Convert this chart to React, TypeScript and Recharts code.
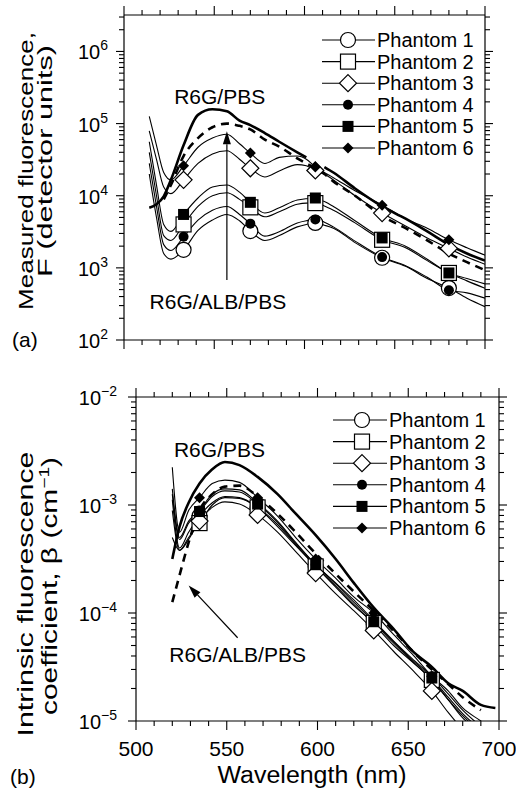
import React from "react";
import { LineChart, Line, XAxis, YAxis, ReferenceLine, ReferenceDot, Legend } from "recharts";

const FONT = "'Liberation Sans', Arial, Helvetica, sans-serif";

// (a) measured fluorescence, detector units
const wlTop = [514, 518, 522, 526, 533, 541, 549, 557, 564, 570, 578, 586, 596, 601, 606, 611, 616, 628, 643, 656, 668, 680, 690, 700];
const p1Top = [2.0e4, 5.0e3, 1.58e3, 1.32e3, 1.78e3, 3.3e3, 4.6e3, 5.5e3, 4.5e3, 3.24e3, 2.4e3, 2.8e3, 3.7e3, 4.0e3, 4.2e3, 3.9e3, 3.55e3, 2.24e3, 1.38e3, 1.05e3, 7.1e2, 5.25e2, 3.8e2, 2.9e2];
const p2Top = [4.0e4, 1.0e4, 2.8e3, 2.4e3, 4.0e3, 7.1e3, 1.0e4, 1.1e4, 8.9e3, 6.9e3, 5.1e3, 6.0e3, 7.6e3, 7.9e3, 7.9e3, 7.2e3, 6.3e3, 4.2e3, 2.45e3, 1.9e3, 1.26e3, 8.5e2, 6.6e2, 5.2e2];
const p3Top = [7.9e4, 3.2e4, 1.32e4, 1.07e4, 1.66e4, 2.8e4, 3.8e4, 4.2e4, 3.2e4, 2.4e4, 1.82e4, 2.2e4, 2.7e4, 2.6e4, 2.24e4, 2.0e4, 1.66e4, 1.0e4, 5.75e3, 3.8e3, 2.6e3, 1.86e3, 1.41e3, 1.12e3];
const p4Top = [2.8e4, 7.1e3, 2.1e3, 1.74e3, 2.7e3, 4.6e3, 6.3e3, 7.1e3, 5.5e3, 4.1e3, 2.75e3, 3.16e3, 4.2e3, 4.5e3, 4.7e3, 4.3e3, 3.7e3, 2.35e3, 1.41e3, 1.07e3, 7.4e2, 4.9e2, 4.5e2, 3.8e2];
const p5Top = [5.6e4, 1.4e4, 4.0e3, 3.2e3, 5.5e3, 9.3e3, 1.32e4, 1.41e4, 1.12e4, 8.1e3, 5.75e3, 6.8e3, 8.7e3, 9.1e3, 9.3e3, 8.3e3, 7.1e3, 4.5e3, 2.6e3, 2.0e3, 1.32e3, 8.5e2, 7.1e2, 6.0e2];
const p6Top = [1.26e5, 5.0e4, 2.1e4, 1.66e4, 2.6e4, 4.7e4, 6.3e4, 7.1e4, 5.25e4, 3.9e4, 2.8e4, 3.4e4, 3.55e4, 3.2e4, 2.5e4, 2.1e4, 1.78e4, 1.17e4, 7.4e3, 4.8e3, 3.55e3, 2.45e3, 1.9e3, 1.5e3];
const pbsTop = [6.8e3, 7.6e3, 9.8e3, 1.66e4, 5.0e4, 1.32e5, 1.58e5, 1.48e5, 1.1e5, 9.5e4, 7.4e4, 5.6e4, 4.0e4, 3.4e4, null, 2.5e4, 2.1e4, 1.26e4, 7.1e3, 4.8e3, 3.2e3, 2.1e3, 1.58e3, 1.26e3];
const albTop = [null, null, 8.9e3, 1.41e4, 3.55e4, 6.3e4, 8.9e4, 1.0e5, 9.3e4, 8.3e4, 6.0e4, 4.8e4, 3.3e4, 2.8e4, 2.4e4, 2.0e4, 1.58e4, 1.0e4, 5.25e3, 3.55e3, 2.4e3, 1.58e3, 1.2e3, 9.3e2];
const markersTop = [533, 570, 606, 643, 680];

// (b) intrinsic fluorescence coefficient, cm^-1
const wlBot = [520, 524, 529, 535, 542, 549, 557, 567, 578, 588, 599, 610, 620, 631, 642, 652, 663, 672, 680, 690, 698];
const p1Bot = [1.12e-3, 4.0e-4, 5.6e-4, 7.9e-4, 1.05e-3, 1.2e-3, 1.17e-3, 9.5e-4, 6.3e-4, 4.2e-4, 2.7e-4, 1.78e-4, 1.2e-4, 7.9e-5, 5.0e-5, 3.55e-5, 2.4e-5, 1.58e-5, 1.12e-5, 7.9e-6, null];
const p2Bot = [8.9e-4, 3.8e-4, 5.0e-4, 6.8e-4, 1.0e-3, 1.17e-3, 1.15e-3, 9.5e-4, 6.6e-4, 4.3e-4, 2.7e-4, 1.74e-4, 1.17e-4, 8.1e-5, 5.25e-5, 3.6e-5, 2.4e-5, 1.58e-5, 1.07e-5, 7.9e-6, null];
const p3Bot = [5.0e-4, 3.8e-4, 4.8e-4, 7.1e-4, 9.5e-4, 1.07e-3, 1.02e-3, 8.1e-4, 5.6e-4, 3.7e-4, 2.34e-4, 1.51e-4, 1.05e-4, 6.9e-5, 4.4e-5, 3.0e-5, 1.9e-5, 1.2e-5, 8.3e-6, null, null];
const p4Bot = [1.41e-3, 5.0e-4, 7.1e-4, 8.9e-4, 1.26e-3, 1.41e-3, 1.38e-3, 1.05e-3, 7.1e-4, 4.5e-4, 2.8e-4, 1.9e-4, 1.32e-4, 8.5e-5, 5.5e-5, 3.8e-5, 2.6e-5, 1.78e-5, 1.26e-5, 8.9e-6, null];
const p5Bot = [1.26e-3, 4.8e-4, 6.8e-4, 8.7e-4, 1.2e-3, 1.35e-3, 1.32e-3, 1.02e-3, 6.9e-4, 4.4e-4, 2.8e-4, 1.86e-4, 1.26e-4, 8.3e-5, 5.4e-5, 3.7e-5, 2.5e-5, 1.66e-5, 1.17e-5, 8.3e-6, null];
const p6Bot = [2.24e-3, 5.6e-4, 8.9e-4, 1.17e-3, 1.58e-3, 1.7e-3, 1.62e-3, 1.17e-3, 7.9e-4, 5.0e-4, 3.16e-4, 2.1e-4, 1.41e-4, 1.0e-4, 6.3e-5, 4.2e-5, 2.6e-5, 1.9e-5, 1.32e-5, 1.0e-5, 7.9e-6];
const pbsBot = [3.16e-4, 6.3e-4, 1.05e-3, 1.58e-3, 2.14e-3, 2.5e-3, 2.34e-3, 1.82e-3, 1.26e-3, 8.3e-4, 5.25e-4, 3.16e-4, 1.9e-4, 1.12e-4, 7.1e-5, 4.5e-5, 3.16e-5, 2.24e-5, 1.9e-5, 1.41e-5, 1.32e-5];
const albBot = [1.26e-4, 2.24e-4, 4.5e-4, 8.9e-4, 1.26e-3, 1.48e-3, 1.51e-3, 1.2e-3, 8.3e-4, 5.6e-4, 3.55e-4, 2.3e-4, 1.58e-4, 1.05e-4, 6.8e-5, 4.5e-5, 3.0e-5, 2.2e-5, 1.66e-5, 1.26e-5, null];
const markersBot = [535, 567, 599, 631, 663];

const xTicks = [500, 510, 520, 530, 540, 550, 560, 570, 580, 590, 600, 610, 620, 630, 640, 650, 660, 670, 680, 690, 700];

// log axis ticks: 1..9 times each decade
const logTicks = (lo: number, hi: number, max: number) => {
  const out: number[] = [];
  for (let e = lo; e <= hi; e++) {
    for (let k = 1; k <= 9; k++) {
      const v = k * Math.pow(10, e);
      if (v <= max * 1.0001) out.push(v);
    }
  }
  return out;
};
const yTicksTop = logTicks(2, 6, 3e6);
const yTicksBot = logTicks(-5, -2, 1e-2);

type Kind = "circle" | "square" | "diamond" | "fcircle" | "fsquare" | "fdiamond";

const phantoms: { key: string; name: string; kind: Kind }[] = [
  { key: "p1", name: "Phantom 1", kind: "circle" },
  { key: "p2", name: "Phantom 2", kind: "square" },
  { key: "p3", name: "Phantom 3", kind: "diamond" },
  { key: "p4", name: "Phantom 4", kind: "fcircle" },
  { key: "p5", name: "Phantom 5", kind: "fsquare" },
  { key: "p6", name: "Phantom 6", kind: "fdiamond" },
];

const topRows = wlTop.map((wl, i) => ({
  wl, p1: p1Top[i], p2: p2Top[i], p3: p3Top[i], p4: p4Top[i], p5: p5Top[i], p6: p6Top[i], pbs: pbsTop[i], alb: albTop[i],
}));
const botRows = wlBot.map((wl, i) => ({
  wl, p1: p1Bot[i], p2: p2Bot[i], p3: p3Bot[i], p4: p4Bot[i], p5: p5Bot[i], p6: p6Bot[i], pbs: pbsBot[i], alb: albBot[i],
}));

function Marker({ kind, cx, cy }: { kind: Kind; cx: number; cy: number }) {
  const s = { stroke: "#000", strokeWidth: 1.2 };
  switch (kind) {
    case "circle":
      return <circle cx={cx} cy={cy} r={7.5} fill="#fff" {...s} />;
    case "square":
      return <rect x={cx - 7.5} y={cy - 7.5} width={15} height={15} fill="#fff" {...s} />;
    case "diamond":
      return <polygon points={`${cx},${cy - 8.5} ${cx + 8.5},${cy} ${cx},${cy + 8.5} ${cx - 8.5},${cy}`} fill="#fff" {...s} />;
    case "fcircle":
      return <circle cx={cx} cy={cy} r={5} fill="#000" />;
    case "fsquare":
      return <rect x={cx - 5.5} y={cy - 5.5} width={11} height={11} fill="#000" />;
    default:
      return <polygon points={`${cx},${cy - 5.5} ${cx + 5.5},${cy} ${cx},${cy + 5.5} ${cx - 5.5},${cy}`} fill="#000" />;
  }
}

const makeDot = (kind: Kind, at: number[]) => (p: any) => {
  const key = `${kind}-${p.index}`;
  if (!at.includes(p.payload?.wl) || p.cy == null || isNaN(p.cy)) return <g key={key} />;
  return (
    <g key={key}>
      <Marker kind={kind} cx={p.cx} cy={p.cy} />
    </g>
  );
};

const isDecade = (v: number) => Math.abs(Math.log10(v) - Math.round(Math.log10(v))) < 1e-6;

const XTick = ({ x, y, payload, side, labels }: any) => {
  const v = payload.value;
  const major = v % 50 === 0;
  const len = major ? 9 : 5;
  const dir = side === "bottom" ? 1 : -1;
  return (
    <g>
      <line x1={x} y1={y} x2={x} y2={y + dir * len} stroke="#000" strokeWidth={1.1} />
      {labels && major && (
        <text x={x} y={y + 35} textAnchor="middle" fontSize={21} fill="#000">
          {v}
        </text>
      )}
    </g>
  );
};

const YTick = ({ x, y, payload, side, gap }: any) => {
  const v = payload.value;
  const major = isDecade(v);
  const len = major ? 8 : 5;
  const dir = side === "left" ? -1 : 1;
  const e = Math.round(Math.log10(v));
  return (
    <g>
      <line x1={x} y1={y} x2={x + dir * len} y2={y} stroke="#000" strokeWidth={1.1} />
      {side === "left" && major && (
        <text x={x - gap} y={y} textAnchor="end" fontSize={20} fill="#000">
          <tspan dy={8}>10</tspan>
          <tspan dy={-9} fontSize={14}>{e < 0 ? `\u2212${-e}` : `${e}`}</tspan>
        </text>
      )}
    </g>
  );
};

const Arrow = (p: any) => {
  const { x1, y1, x2, y2 } = p;
  const a = Math.atan2(y2 - y1, x2 - x1);
  const L = 13;
  const W = 4;
  const bx = x2 - L * Math.cos(a);
  const by = y2 - L * Math.sin(a);
  const nx = -Math.sin(a) * W;
  const ny = Math.cos(a) * W;
  return (
    <g>
      <line x1={x1} y1={y1} x2={bx} y2={by} stroke="#000" strokeWidth={1.2} />
      <polygon points={`${x2},${y2} ${bx + nx},${by + ny} ${bx - nx},${by - ny}`} fill="#000" />
    </g>
  );
};

const LegendBox = ({ lineEnd, markX }: { lineEnd: number; markX: number }) => (
  <svg width={190} height={140} style={{ display: "block", overflow: "visible" }}>
    {phantoms.map((s, i) => {
      const cy = 11 + i * 21.6;
      return (
        <g key={s.key}>
          <line x1={4} x2={lineEnd} y1={cy} y2={cy} stroke="#000" strokeWidth={1.1} />
          <Marker kind={s.kind} cx={markX} cy={cy} />
          <text x={lineEnd + 2} y={cy + 7} fontSize={20} fill="#000" style={{ fontFamily: FONT }}>
            {s.name}
          </text>
        </g>
      );
    })}
  </svg>
);

const axisStyle = { stroke: "#000", strokeWidth: 1.2 };

type PanelProps = {
  rows: any[];
  markers: number[];
  yDomain: [number, number];
  yTicks: number[];
  height: number;
  margin: { top: number; right: number; bottom: number; left: number };
  yWidth: number;
  gap: number;
  xLabels: boolean;
  legend: { top: number; left: number; lineEnd: number; markX: number };
  arrow: { x: number; y: number }[];
  notes: { x: number; y: number; text: string }[];
};

function Panel(props: PanelProps) {
  const { rows, markers, yDomain, yTicks, height, margin, yWidth, gap, xLabels, legend, arrow, notes } = props;
  return (
    <LineChart width={516} height={height} data={rows} margin={margin} style={{ fontFamily: FONT }}>
      <XAxis
        dataKey="wl" type="number" domain={[500, 700]} allowDataOverflow ticks={xTicks} interval={0}
        height={1} tickSize={0} tickMargin={0} tickLine={false} axisLine={axisStyle}
        tick={(p: any) => <XTick {...p} side="bottom" labels={xLabels} />}
      />
      <XAxis
        xAxisId="t" orientation="top" dataKey="wl" type="number" domain={[500, 700]} allowDataOverflow ticks={xTicks} interval={0}
        height={1} tickSize={0} tickMargin={0} tickLine={false} axisLine={axisStyle}
        tick={(p: any) => <XTick {...p} side="top" labels={false} />}
      />
      <YAxis
        scale="log" type="number" domain={yDomain} allowDataOverflow ticks={yTicks} interval={0}
        width={yWidth} tickSize={0} tickMargin={0} tickLine={false} axisLine={axisStyle}
        tick={(p: any) => <YTick {...p} side="left" gap={gap} />}
      />
      <YAxis
        yAxisId="r" orientation="right" scale="log" type="number" domain={yDomain} allowDataOverflow ticks={yTicks} interval={0}
        width={1} tickSize={0} tickMargin={0} tickLine={false} axisLine={axisStyle}
        tick={(p: any) => <YTick {...p} side="right" gap={0} />}
      />
      <Line xAxisId="t" yAxisId="r" dataKey="p1" stroke="none" dot={false} activeDot={false} legendType="none" isAnimationActive={false} />
      <Line dataKey="pbs" type="monotone" stroke="#000" strokeWidth={2.6} dot={false} activeDot={false} legendType="none" isAnimationActive={false} />
      <Line dataKey="alb" type="monotone" stroke="#000" strokeWidth={2.6} strokeDasharray="8 6" dot={false} activeDot={false} legendType="none" isAnimationActive={false} />
      {phantoms.map((s) => (
        <Line
          key={s.key} dataKey={s.key} name={s.name} type="monotone" stroke="#000" strokeWidth={1.1}
          dot={makeDot(s.kind, markers)} activeDot={false} isAnimationActive={false}
        />
      ))}
      <ReferenceLine segment={arrow} shape={(p: any) => <Arrow {...p} />} />
      {notes.map((n) => (
        <ReferenceDot
          key={n.text} x={n.x} y={n.y} r={0} fill="none" stroke="none"
          label={{ value: n.text, position: "center", fontSize: 21, fill: "#000" }}
        />
      ))}
      <Legend
        layout="horizontal" verticalAlign="middle" align="center"
        wrapperStyle={{ top: legend.top, left: legend.left, width: 190, height: 140 }}
        content={() => <LegendBox lineEnd={legend.lineEnd} markX={legend.markX} />}
      />
    </LineChart>
  );
}

export default function App() {
  return (
    <div style={{ position: "absolute", left: 0, top: 0, width: 516, height: 793, background: "#fff", fontFamily: FONT }}>
      <div style={{ position: "absolute", left: 0, top: 0 }}>
        <Panel
          rows={topRows} markers={markersTop} yDomain={[1e2, 3.2e6]} yTicks={yTicksTop}
          height={362} margin={{ top: 14, right: 30, bottom: 21, left: 0 }} yWidth={124} gap={16} xLabels={false}
          legend={{ top: 29, left: 318, lineEnd: 57, markX: 30 }}
          arrow={[{ x: 557, y: 680 }, { x: 557, y: 7.8e4 }]}
          notes={[
            { x: 553, y: 2.35e5, text: "R6G/PBS" },
            { x: 552, y: 340, text: "R6G/ALB/PBS" },
          ]}
        />
      </div>
      <div style={{ position: "absolute", left: 0, top: 365 }}>
        <Panel
          rows={botRows} markers={markersBot} yDomain={[1e-5, 1e-2]} yTicks={yTicksBot}
          height={428} margin={{ top: 31, right: 16, bottom: 71, left: 0 }} yWidth={136} gap={19} xLabels={true}
          legend={{ top: 44, left: 329, lineEnd: 58, markX: 33 }}
          arrow={[{ x: 556, y: 5.9e-5 }, { x: 529, y: 1.8e-4 }]}
          notes={[
            { x: 546, y: 3.25e-3, text: "R6G/PBS" },
            { x: 556, y: 4.1e-5, text: "R6G/ALB/PBS" },
          ]}
        />
      </div>
      <svg width={516} height={793} style={{ position: "absolute", left: 0, top: 0, pointerEvents: "none", fontFamily: FONT }}>
        <text transform="translate(33,171) rotate(-90)" textAnchor="middle" fontSize={21} textLength={278} lengthAdjust="spacingAndGlyphs">
          Measured fluorescence,
        </text>
        <text transform="translate(52,161) rotate(-90)" textAnchor="middle" fontSize={21} textLength={232} lengthAdjust="spacingAndGlyphs">
          F (detector units)
        </text>
        <text transform="translate(33,594) rotate(-90)" textAnchor="middle" fontSize={22} textLength={285} lengthAdjust="spacingAndGlyphs">
          Intrinsic fluorescence
        </text>
        <text transform="translate(57,586) rotate(-90)" textAnchor="middle" fontSize={22} textLength={258} lengthAdjust="spacingAndGlyphs">
          coefficient, β (cm<tspan dy={-8} fontSize={14}>−1</tspan><tspan dy={8}>)</tspan>
        </text>
        <text x={312} y={783} textAnchor="middle" fontSize={23} textLength={189} lengthAdjust="spacingAndGlyphs">
          Wavelength (nm)
        </text>
        <text x={12} y={347} fontSize={21}>(a)</text>
        <text x={10} y={784} fontSize={21}>(b)</text>
      </svg>
    </div>
  );
}
